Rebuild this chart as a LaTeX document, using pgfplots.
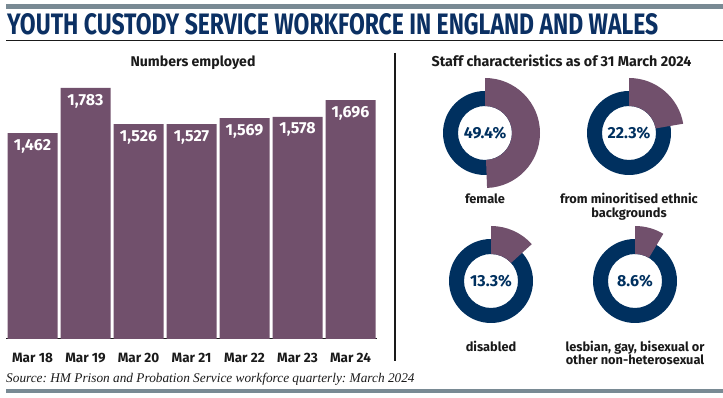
\documentclass[border=0pt]{standalone}
\usepackage{fontspec}
\setmainfont{Fira Sans}
\newfontfamily\srcfont{Liberation Serif}
\usepackage{pgfplots}
\pgfplotsset{compat=1.18}
\definecolor{barpurple}{HTML}{71506C}
\definecolor{ringnavy}{HTML}{00305F}
\definecolor{titlenavy}{HTML}{0B3063}
\definecolor{bandgray}{HTML}{798A94}
\definecolor{darktext}{HTML}{1A1A1A}

\newcommand{\donut}[3]{%
  \begin{scope}[shift={(#1,#2)}]
    \fill[ringnavy, even odd rule] (0,0) circle (42) (0,0) circle (27);
    \pgfmathsetmacro{\endang}{90-3.6*#3}
    \fill[barpurple] (90:27) -- (90:55) arc[start angle=90, end angle=\endang, radius=55]
      -- (\endang:27) arc[start angle=\endang, end angle=90, radius=27] -- cycle;
    \node[text=ringnavy, font=\fontsize{16}{18}\selectfont\bfseries] at (0,0) {#3\%};
  \end{scope}}

\begin{document}
\frenchspacing
\begin{tikzpicture}[x=1pt, y=1pt]
\useasboundingbox (0,0) rectangle (723,398);
% bands and rules
\fill[bandgray] (6,389) rectangle (723,394);
\fill[bandgray] (6,5) rectangle (723,9);
\node[anchor=south west, inner sep=0pt, text=titlenavy] at (7,363)
  {\resizebox{651pt}{21pt}{\bfseries YOUTH CUSTODY SERVICE WORKFORCE IN ENGLAND AND WALES}};
\draw[darktext, line width=1pt] (6,357) -- (723,357);
\draw[darktext, line width=1.3pt] (395,345) -- (395,37);
% headings
\node[anchor=base, inner sep=0pt, text=darktext, font=\fontsize{14.1}{16}\selectfont\bfseries] at (193,331) {Numbers employed};
\node[anchor=base, inner sep=0pt, text=darktext, font=\fontsize{14.3}{16}\selectfont\bfseries] at (561.5,331) {Staff characteristics as of 31 March 2024};

\begin{axis}[
  at={(6pt,59pt)}, anchor=south west,
  scale only axis, width=371pt, height=253.4pt,
  xmin=-0.5, xmax=6.5, ymin=0, ymax=1800,
  axis x line*=bottom, axis y line=none,
  x axis line style={darktext, line width=1pt, -},
  ybar, bar width=50pt,
  xtick=data, xticklabels={Mar 18, Mar 19, Mar 20, Mar 21, Mar 22, Mar 23, Mar 24},
  major tick length=0pt,
  xticklabel style={font=\fontsize{13.5}{16}\selectfont\bfseries, text=darktext, yshift=-11pt},
  /pgf/number format/assume math mode=true,
  /pgf/number format/1000 sep={,},
  nodes near coords,
  every node near coord/.append style={anchor=center, yshift=-13pt, text=white,
     font=\fontsize{16}{18}\selectfont\bfseries},
]
\addplot[fill=barpurple, draw=none] coordinates {
 (0,1462) (1,1783) (2,1526) (3,1527) (4,1569) (5,1578) (6,1696)};
\end{axis}

% donuts
\donut{485}{265}{49.4}
\donut{629}{265}{22.3}
\donut{491}{117}{13.3}
\donut{635}{117}{8.6}
\begin{scope}[every node/.style={anchor=base, inner sep=0pt, text=darktext, font=\fontsize{12.8}{15}\selectfont\bfseries}]
\node at (485,194) {female};
\node at (629,194) {from minoritised ethnic};
\node at (629,180) {backgrounds};
\node at (491,46) {disabled};
\node at (635,46) {lesbian, gay, bisexual or};
\node at (635,33) {other non-heterosexual};
\end{scope}
\node[anchor=base west, inner sep=0pt, text=darktext, font=\srcfont\itshape\fontsize{13.3}{15}\selectfont] at (6,15)
  {Source: HM Prison and Probation Service workforce quarterly: March 2024};
\end{tikzpicture}
\end{document}
